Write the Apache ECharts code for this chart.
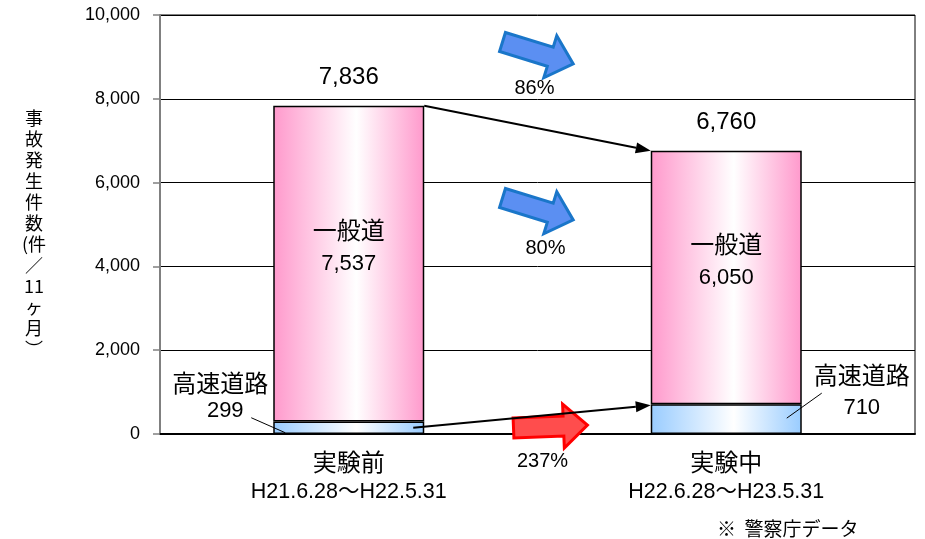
<!DOCTYPE html>
<html>
<head>
<meta charset="utf-8">
<script src="https://cdn.jsdelivr.net/npm/echarts@6/dist/echarts.min.js"></script>
<style>
  html, body { margin: 0; padding: 0; background: #fff; }
  #chart { width: 925px; height: 539px; }
</style>
</head>
<body>
<div id="chart"></div>
<script>
// Accidents over 11 months, before vs. during the expressway toll-free experiment
const periods = ['実験前', '実験中'];
const periodRanges = ['H21.6.28～H22.5.31', 'H22.6.28～H23.5.31'];
const expresswayName = '高速道路';
const generalRoadName = '一般道';
const expresswayCounts = [299, 710];
const generalRoadCounts = [7537, 6050];
const yTicks = [0, 2000, 4000, 6000, 8000, 10000];
const yAxisTitleLines = ['事', '故', '発', '生', '件', '数', '(件', '／', '11', 'ヶ', '月', '︶'];
const sourceNote = '※  警察庁データ';

const totals = periods.map((_, i) => expresswayCounts[i] + generalRoadCounts[i]);

const fmt = v => Number(v).toLocaleString('en-US');
const ratio = (before, after) => Math.round(after / before * 100) + '%';

const JP = '"Noto Sans CJK JP", sans-serif';
const NUM = '"Liberation Sans", Arial, sans-serif';
const MIXED = '"Liberation Sans", "Noto Sans CJK JP", sans-serif';

const chart = echarts.init(document.getElementById('chart'));

const pinkFill = new echarts.graphic.LinearGradient(0, 0, 1, 0, [
  { offset: 0, color: '#ff99cc' },
  { offset: 0.55, color: '#ffffff' },
  { offset: 1, color: '#ff99cc' }
]);
const blueFill = new echarts.graphic.LinearGradient(0, 0, 1, 0, [
  { offset: 0, color: '#99ccff' },
  { offset: 0.55, color: '#ffffff' },
  { offset: 1, color: '#99ccff' }
]);

const barBorder = { borderColor: '#000', borderWidth: 1.5 };

chart.setOption({
  animation: false,
  grid: { left: 160, right: 10, top: 15, bottom: 105, show: true, borderColor: '#000', borderWidth: 1 },
  xAxis: {
    type: 'category',
    data: periods,
    axisLine: { lineStyle: { color: '#000', width: 2 } },
    axisTick: { show: false },
    axisLabel: {
      margin: 13,
      interval: 0,
      formatter: (v, i) => '{a|' + v + '}\n{b|' + periodRanges[i] + '}',
      rich: {
        a: { fontSize: 24, fontFamily: JP, color: '#000', lineHeight: 30 },
        b: { fontSize: 21.5, fontFamily: MIXED, color: '#000', lineHeight: 30 }
      }
    }
  },
  yAxis: {
    type: 'value',
    min: yTicks[0],
    max: yTicks[yTicks.length - 1],
    interval: yTicks[1] - yTicks[0],
    axisLine: { show: true, lineStyle: { color: '#808080', width: 2 } },
    axisTick: { show: true, length: 7, lineStyle: { color: '#808080', width: 1.5 } },
    axisLabel: { margin: 20, fontSize: 18, fontFamily: NUM, color: '#000', formatter: v => fmt(v) },
    splitLine: { lineStyle: { color: '#000', width: 1 } }
  },
  series: [
    {
      name: expresswayName,
      type: 'bar',
      stack: 'road',
      barWidth: '40%',
      data: expresswayCounts,
      itemStyle: Object.assign({ color: blueFill }, barBorder)
    },
    {
      name: generalRoadName,
      type: 'bar',
      stack: 'road',
      barWidth: '40%',
      data: generalRoadCounts,
      itemStyle: Object.assign({ color: pinkFill }, barBorder),
      label: {
        show: true,
        position: 'inside',
        offset: [0, -20],
        formatter: p => '{a|' + generalRoadName + '}\n{b|' + fmt(p.value) + '}',
        rich: {
          a: { fontSize: 24, fontFamily: JP, color: '#000', lineHeight: 40 },
          b: { fontSize: 22, fontFamily: NUM, color: '#000', lineHeight: 28 }
        }
      }
    },
    {
      // invisible overlay carrying the total above each stack
      name: '合計',
      type: 'bar',
      barWidth: '40%',
      barGap: '-100%',
      data: totals,
      z: 1,
      itemStyle: { color: 'rgba(0,0,0,0)' },
      label: {
        show: true,
        position: 'top',
        distance: 16,
        fontSize: 24,
        fontFamily: NUM,
        color: '#000',
        formatter: p => fmt(p.value)
      }
    }
  ]
});

// Annotations positioned from the chart's own scales
function drawOverlays() {
  const px = (i, v) => chart.convertToPixel({ xAxisIndex: 0, yAxisIndex: 0 }, [i, v]);
  const band = px(1, 0)[0] - px(0, 0)[0];
  const half = band * 0.4 / 2;
  const midX = (px(0, 0)[0] + px(1, 0)[0]) / 2;
  const els = [];

  function arrowLine(x1, y1, x2, y2) {
    const ang = Math.atan2(y2 - y1, x2 - x1);
    const L = 15, W = 5.5;
    const bx = x2 - L * Math.cos(ang), by = y2 - L * Math.sin(ang);
    els.push({
      type: 'line', z: 50,
      shape: { x1: x1, y1: y1, x2: bx, y2: by },
      style: { stroke: '#000', lineWidth: 2 }
    });
    els.push({
      type: 'polygon', z: 50,
      shape: { points: [
        [x2, y2],
        [bx + W * Math.sin(ang), by - W * Math.cos(ang)],
        [bx - W * Math.sin(ang), by + W * Math.cos(ang)]
      ] },
      style: { fill: '#000' }
    });
  }

  // total-to-total and expressway-to-expressway connectors
  const t0 = px(0, totals[0]), t1 = px(1, totals[1]);
  arrowLine(t0[0] + half, t0[1], t1[0] - half, t1[1]);
  const e0 = px(0, expresswayCounts[0] / 2), e1 = px(1, expresswayCounts[1]);
  arrowLine(e0[0] + half - 11, e0[1], e1[0] - half, e1[1] + 1);

  // expressway labels with leader lines
  const s0 = px(0, expresswayCounts[0] / 2);
  const lx0 = s0[0] - half - 53;
  els.push({ type: 'text', z: 60, x: lx0, y: s0[1] - 45,
    style: { text: expresswayName, fontSize: 24, fontFamily: JP, fill: '#000', align: 'center', verticalAlign: 'middle' } });
  els.push({ type: 'text', z: 60, x: lx0 + 5, y: s0[1] - 17,
    style: { text: fmt(expresswayCounts[0]), fontSize: 22, fontFamily: NUM, fill: '#000', align: 'center', verticalAlign: 'middle' } });
  els.push({ type: 'line', z: 60,
    shape: { x1: s0[0] - half - 22, y1: s0[1] - 10, x2: s0[0] - half + 12, y2: s0[1] + 5 },
    style: { stroke: '#000', lineWidth: 1 } });

  const s1 = px(1, expresswayCounts[1] / 2);
  const lx1 = s1[0] + half + 60;
  els.push({ type: 'text', z: 60, x: lx1, y: s1[1] - 44,
    style: { text: expresswayName, fontSize: 24, fontFamily: JP, fill: '#000', align: 'center', verticalAlign: 'middle' } });
  els.push({ type: 'text', z: 60, x: lx1, y: s1[1] - 11,
    style: { text: fmt(expresswayCounts[1]), fontSize: 22, fontFamily: NUM, fill: '#000', align: 'center', verticalAlign: 'middle' } });
  els.push({ type: 'line', z: 60,
    shape: { x1: s1[0] + half + 20, y1: s1[1] - 26, x2: s1[0] + half - 15, y2: s1[1] - 1 },
    style: { stroke: '#000', lineWidth: 1 } });

  // block arrows with the change ratios
  function blockArrow(x, y, rot, fill, stroke) {
    els.push({
      type: 'polygon', z: 40, x: x, y: y, rotation: rot,
      shape: { points: [[0, -10], [50, -10], [50, -22], [74, 0], [50, 22], [50, 10], [0, 10]] },
      style: { fill: fill, stroke: stroke, lineWidth: 3, lineJoin: 'miter' }
    });
  }
  function ratioText(x, y, text) {
    els.push({ type: 'text', z: 60, x: x, y: y,
      style: { text: text, fontSize: 20, fontFamily: NUM, fill: '#000', align: 'center', verticalAlign: 'middle' } });
  }
  blockArrow(midX - 35, 42, -0.3, '#5b8ff2', '#1a76c9');
  ratioText(midX - 3, 88, ratio(totals[0], totals[1]));
  blockArrow(midX - 35, 198, -0.3, '#5b8ff2', '#1a76c9');
  ratioText(midX + 8, 248, ratio(generalRoadCounts[0], generalRoadCounts[1]));
  blockArrow(midX - 24, 428, 0.04, '#ff4d4d', '#ff0000');
  ratioText(midX + 5, 461, ratio(expresswayCounts[0], expresswayCounts[1]));

  // vertical axis title, one glyph per line
  els.push({ type: 'text', z: 60, x: 34, y: 108,
    style: { text: yAxisTitleLines.join('\n'), fontSize: 18, lineHeight: 21, fontFamily: JP, fill: '#000', align: 'center', verticalAlign: 'top' } });

  // source note
  els.push({ type: 'text', z: 60, x: 717, y: 529,
    style: { text: sourceNote, fontSize: 19, fontFamily: JP, fill: '#000', align: 'left', verticalAlign: 'middle' } });

  chart.setOption({ graphic: { elements: els } });
}

drawOverlays();
</script>
</body>
</html>
